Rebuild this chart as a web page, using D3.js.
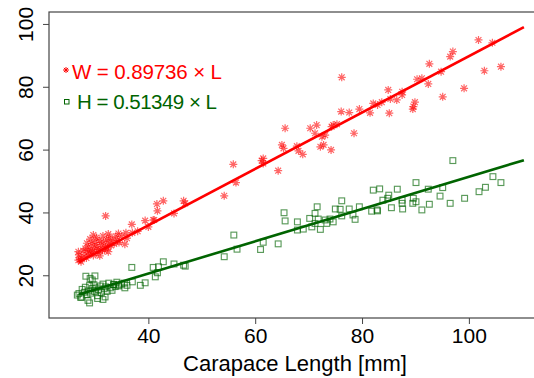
<!DOCTYPE html>
<html><head><meta charset="utf-8">
<script src="https://cdn.jsdelivr.net/npm/d3@7"></script>
<style>html,body{margin:0;padding:0;background:#fff;}svg{display:block;font-family:"Liberation Sans",Arial,sans-serif;}</style>
</head><body><svg id="c" width="534" height="378"></svg>
<script>
// ---- data ----
const xTicks = [40, 60, 80, 100];
const yTicks = [20, 40, 60, 80, 100];
const xTitle = "Carapace Length [mm]";
const slopeW = 0.89736, slopeH = 0.51349;
const fitRange = [27, 110.3];
const legendW = "W = 0.89736 × L";
const legendH = "H = 0.51349 × L";

// width points (L, W)
const widthL = [76.2,101.8,104.4,97.0,96.5,92.6,102.9,106.0,94.8,90.3,91.2,92.4,99.1,95.1,84.9,87.5,87.5,86.5,89.9,89.6,89.5,82.1,82.9,83.7,85.3,85.1,79.5,81.5,76.1,77.6,74.6,75.3,74.3,78.5,71.5,70.3,71.2,72.5,73.1,72.2,72.8,74.2,67.8,68.1,68.9,65.6,65.0,65.3,61.5,55.9,61.2,61.5,64.3,56.4,54.2,46.6,46.9,42.8,41.6,41.7,44.8,41.1,32.0,36.9,39.4,40.9,40.0,35.6,29.7,32.5,34.4,35.8,26.9,26.9,27.5,
  27.0,27.2,27.4,27.8,28.0,28.2,28.4,28.6,28.8,29.0,29.2,29.4,29.5,29.7,29.9,30.0,30.2,30.4,30.6,30.8,31.0,31.2,31.4,31.6,31.8,32.0,32.2,32.4,32.6,32.8,33.0,33.3,33.6,33.9,34.2,34.5,29.1,30.3,31.5,28.5,30.9,32.5,35.0,36.0,37.0,38.0];
const widthW = [83.0,94.9,94.0,91.2,89.6,87.3,85.1,86.4,84.8,82.4,82.7,80.9,79.5,76.8,79.0,78.4,77.4,75.8,75.1,73.7,72.9,74.7,74.2,75.1,76.1,71.6,72.9,71.7,72.1,71.8,67.8,68.1,67.3,65.2,67.8,66.8,65.2,64.1,64.6,60.9,61.5,59.9,61.1,59.6,58.5,66.8,61.5,60.4,57.2,55.3,56.5,55.6,53.3,49.5,45.3,43.7,42.9,43.7,42.7,40.5,39.7,37.6,38.9,36.2,37.4,37.6,35.4,29.9,32.8,33.1,33.3,33.5,27.5,24.8,25.4,
  26.5,25.0,24.3,27.8,26.0,28.5,25.5,27.2,29.0,26.8,28.0,30.1,27.5,26.3,28.8,30.5,27.0,29.3,28.1,31.0,27.6,29.8,28.4,30.6,27.9,29.1,31.3,28.7,30.2,32.0,29.5,31.0,30.0,32.4,31.2,30.4,31.5,32.0,32.5,30.2,26.2,27.5,32.5,31.8,33.5,34.0];

// height points (L, H)
const heightL = [97.0,104.5,103.1,101.9,106.0,99.2,96.5,95.1,94.6,92.6,91.2,92.4,90.1,89.6,90.1,89.5,87.5,87.5,87.6,86.6,85.0,84.8,83.9,82.1,83.3,85.5,82.8,81.8,82.9,76.2,75.0,75.9,77.6,79.5,71.6,71.2,76.2,78.3,78.7,70.2,71.8,73.1,74.0,74.6,73.4,67.9,71.2,70.6,72.2,69.0,67.9,65.4,65.6,56.0,54.2,56.6,61.0,61.5,64.3,42.8,44.8,46.6,46.9,40.9,41.9,41.3,41.7,36.9,35.6,34.4,39.4,28.3,29.1,29.0,30.5,31.5,26.7,27.5,33.5,
  27.0,27.3,27.6,28.0,28.2,28.5,28.8,29.0,29.2,29.5,29.8,30.0,30.2,30.5,30.7,31.0,31.2,31.5,31.7,32.0,32.3,32.6,32.9,33.2,33.5,33.8,34.1,34.5,35.0,35.5,36.0,37.0,38.5,28.7,31.9,30.0,29.5];
const heightH = [56.5,51.4,48.0,46.6,49.5,44.5,42.9,47.9,45.2,42.6,40.8,47.4,49.5,44.5,43.4,42.9,43.9,42.9,41.1,47.4,45.5,44.5,43.9,47.1,47.5,41.5,40.8,40.4,40.5,43.7,41.1,41.0,41.1,41.8,41.8,39.7,38.9,39.2,37.8,38.1,37.9,37.6,37.9,37.0,36.5,37.0,36.5,35.4,34.6,34.7,34.4,39.9,37.3,32.8,25.9,28.3,28.2,30.5,30.0,24.3,23.6,23.2,22.9,22.5,22.7,19.5,20.8,22.5,16.0,16.6,17.6,19.7,19.0,11.2,12.6,12.3,13.7,13.0,17.1,
  14.2,13.0,15.5,14.6,16.2,13.8,15.0,16.8,14.3,15.8,17.0,14.8,16.0,13.5,15.3,16.6,14.5,17.2,15.7,16.3,14.9,17.5,16.0,15.2,17.0,16.4,17.8,16.9,17.2,17.5,16.8,17.9,16.8,12.0,13.1,19.8,18.5];

// ---- drawing ----
const svg = d3.select("#c");
const x = d3.scaleLinear().domain([21.4, 113.5]).range([49, 541]);
const y = d3.scaleLinear().domain([6.4, 103.8]).range([318, 12]);
const axisCol = "#444";
const red = "#ff0000", green = "#006400";

// box
svg.append("rect").attr("x", 49).attr("y", 12).attr("width", 492).attr("height", 306)
  .attr("fill", "none").attr("stroke", axisCol).attr("stroke-width", 1.2);

// x axis
const gx = svg.append("g").attr("transform", "translate(0,318)")
  .call(d3.axisBottom(x).tickValues(xTicks).tickSize(6).tickPadding(4).tickFormat(d3.format("d")));
gx.select(".domain").remove();
gx.selectAll("line").attr("stroke", axisCol);
gx.selectAll("text").attr("font-size", 21).attr("fill", "#000").attr("font-family", "Liberation Sans, Arial, sans-serif");

// y axis
const gy = svg.append("g").attr("transform", "translate(49,0)")
  .call(d3.axisLeft(y).tickValues(yTicks).tickSize(6).tickFormat(d3.format("d")));
gy.select(".domain").remove();
gy.selectAll("line").attr("stroke", axisCol);
gy.selectAll("text").remove();
gy.selectAll(".tick").append("text")
  .attr("transform", "translate(-16,0) rotate(-90)")
  .attr("text-anchor", "middle").attr("fill", "#000")
  .attr("font-size", 21).attr("font-family", "Liberation Sans, Arial, sans-serif")
  .text(d => d);

// x title
svg.append("text").attr("x", 295).attr("y", 371).attr("text-anchor", "middle")
  .attr("font-size", 22).attr("fill", "#000").text(xTitle);

// points
const star = "M-4,0H4M0,-4V4M-2.9,-2.9L2.9,2.9M-2.9,2.9L2.9,-2.9";
svg.append("g").selectAll("path").data(widthL.map((l, i) => [l, widthW[i]])).join("path")
  .attr("d", star).attr("transform", d => `translate(${x(d[0])},${y(d[1])})`)
  .attr("stroke", red).attr("stroke-opacity", 0.6).attr("stroke-width", 1.2).attr("fill", "none");
svg.append("g").selectAll("rect").data(heightL.map((l, i) => [l, heightH[i]])).join("rect")
  .attr("x", d => x(d[0]) - 2.9).attr("y", d => y(d[1]) - 2.9).attr("width", 5.8).attr("height", 5.8)
  .attr("stroke", green).attr("stroke-opacity", 0.65).attr("stroke-width", 1.15).attr("fill", "none");

// fit lines
const line = d3.line().x(d => x(d[0])).y(d => y(d[1]));
svg.append("path").datum(fitRange.map(l => [l, slopeW * l])).attr("d", line)
  .attr("stroke", red).attr("stroke-width", 2.6).attr("fill", "none");
svg.append("path").datum(fitRange.map(l => [l, slopeH * l])).attr("d", line)
  .attr("stroke", green).attr("stroke-width", 2.6).attr("fill", "none");

// legend
svg.append("path").attr("d", "M-3,0H3M0,-3V3M-2.1,-2.1L2.1,2.1M-2.1,2.1L2.1,-2.1")
  .attr("transform", "translate(66,70)").attr("stroke", red).attr("stroke-width", 1).attr("fill", "none");
svg.append("text").attr("x", 72).attr("y", 79).attr("font-size", 20.5).attr("fill", red)
  .attr("textLength", 150).attr("lengthAdjust", "spacing").text(legendW);
svg.append("rect").attr("x", 64.5).attr("y", 99.5).attr("width", 4.5).attr("height", 4.5)
  .attr("stroke", green).attr("stroke-width", 1).attr("fill", "none");
svg.append("text").attr("x", 77).attr("y", 109).attr("font-size", 20.5).attr("fill", green)
  .attr("textLength", 140).attr("lengthAdjust", "spacing").text(legendH);
</script></body></html>
